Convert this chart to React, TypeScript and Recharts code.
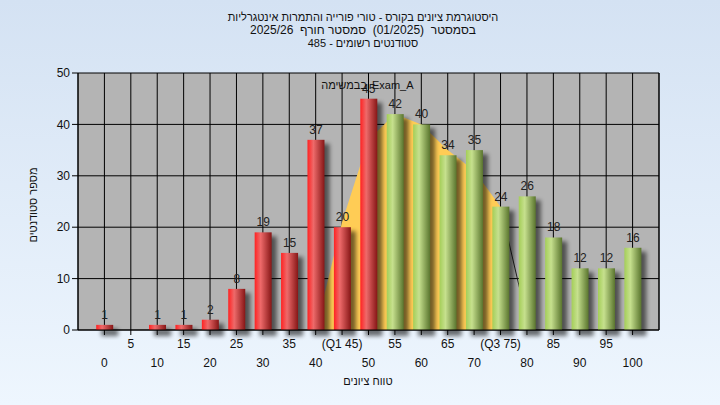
import {
  ComposedChart, Bar, Area, Line, XAxis, YAxis, CartesianGrid, LabelList
} from 'recharts'

const FONT = '"Liberation Sans", Arial, sans-serif'

// grade buckets and number of students in each
const grades = [0, 5, 10, 15, 20, 25, 30, 35, 40, 45, 50, 55, 60, 65, 70, 75, 80, 85, 90, 95, 100]
const students = [1, 0, 1, 1, 2, 8, 19, 15, 37, 20, 45, 42, 40, 34, 35, 24, 26, 18, 12, 12, 16]
const tickLabels = ['0', '5', '10', '15', '20', '25', '30', '35', '40', '(Q1 45)', '50', '55', '60', '65', '70', '(Q3 75)', '80', '85', '90', '95', '100']
// yellow band behind the bars (Q1..Q3) and its dark tail
const band = [null, null, null, null, null, null, null, null, 0, 21, 37, 42, 40, 35, 31, 24, null, null, null, null, null]
const tail = [null, null, null, null, null, null, null, null, null, null, null, null, null, null, null, 24, 2, null, null, null, null]
const yTicks = [0, 10, 20, 30, 40, 50]

const titleLines = [
  { text: 'היסטוגרמת ציונים בקורס - טורי פורייה והתמרות אינטגרליות', size: 11 },
  { text: 'בסמסטר  (01/2025)  סמסטר חורף  2025/26', size: 12 },
  { text: 'סטודנטים רשומים - 485', size: 11 },
]

const data = grades.map((g, i) => ({
  grade: g,
  count: students[i],
  band: band[i],
  tail: tail[i],
}))

function CylBar(props: any) {
  const { x, y, width, height, payload } = props
  if (!height || height <= 0) return null
  const fill = payload.grade <= 50 ? 'url(#redBar)' : 'url(#greenBar)'
  return (
    <g>
      <rect x={x + 5} y={y + 4} width={width} height={height + 2} fill="#000" opacity={0.55} filter="url(#barShadow)" />
      <rect x={x} y={y} width={width} height={height} fill={fill} />
    </g>
  )
}

function GradeTick(props: any) {
  const { x, y, payload } = props
  const i = grades.indexOf(payload.value)
  const upper = payload.value % 10 === 5
  return (
    <text x={x} y={y} dy={upper ? 11 : 29.5} textAnchor="middle" fontSize={12} fill="#111" fontFamily={FONT}>
      {tickLabels[i]}
    </text>
  )
}

export default function App() {
  return (
    <div style={{
      position: 'absolute', left: 0, top: 0, width: 720, height: 405,
      background: 'linear-gradient(#D4E2F3, #EEF6FE)', fontFamily: FONT, color: '#111',
    }}>
      <div style={{ position: 'absolute', left: 0, top: 11, width: 726, textAlign: 'center', direction: 'rtl', whiteSpace: 'pre' }}>
        {titleLines.map(t => <div key={t.text} style={{ fontSize: t.size, lineHeight: '13px' }}>{t.text}</div>)}
      </div>
      <div style={{ position: 'absolute', left: 0, top: 0 }}>
        <ComposedChart width={720} height={405} data={data} margin={{ top: 73, right: 0, bottom: 0, left: 0 }}>
          <defs>
            <linearGradient id="redBar" x1="0" y1="0" x2="1" y2="0">
              <stop offset="0%" stopColor="#FF2222" />
              <stop offset="35%" stopColor="#EE6A6A" />
              <stop offset="100%" stopColor="#861616" />
            </linearGradient>
            <linearGradient id="greenBar" x1="0" y1="0" x2="1" y2="0">
              <stop offset="0%" stopColor="#A4CE58" />
              <stop offset="35%" stopColor="#C6E08E" />
              <stop offset="100%" stopColor="#5A752E" />
            </linearGradient>
            <filter id="barShadow" x="-50%" y="-50%" width="200%" height="200%">
              <feGaussianBlur stdDeviation="2" />
            </filter>
          </defs>
          <CartesianGrid yAxisId="l" stroke="#000" fill="#B4B4B4" fillOpacity={1} />
          <XAxis
            dataKey="grade"
            type="number"
            domain={[-5, 105]}
            ticks={grades}
            interval={0}
            height={75}
            tickSize={5}
            tick={<GradeTick />}
            axisLine={{ stroke: '#000' }}
            tickLine={{ stroke: '#000' }}
          />
          <YAxis
            yAxisId="l"
            domain={[0, 50]}
            ticks={yTicks}
            width={78}
            tickSize={6}
            tick={{ fontSize: 12, fill: '#111', fontFamily: FONT }}
            axisLine={{ stroke: '#000' }}
            tickLine={{ stroke: '#000' }}
          />
          <YAxis
            yAxisId="r"
            orientation="right"
            domain={[0, 50]}
            ticks={yTicks}
            width={61}
            tickSize={6}
            tick={{ fontSize: 12, fill: '#111', fontFamily: FONT }}
            axisLine={{ stroke: '#000' }}
            tickLine={{ stroke: '#000' }}
          />
          <Area
            yAxisId="l"
            dataKey="band"
            type="linear"
            stroke="none"
            fill="#FFCC55"
            fillOpacity={1}
            dot={false}
            activeDot={false}
            isAnimationActive={false}
          />
          <Line
            yAxisId="l"
            dataKey="tail"
            type="linear"
            stroke="#222"
            strokeWidth={1}
            dot={false}
            activeDot={false}
            zIndex={250}
            isAnimationActive={false}
          />
          <Bar yAxisId="l" dataKey="count" barSize={17} shape={<CylBar />} isAnimationActive={false}>
            <LabelList
              dataKey="count"
              position="top"
              offset={6}
              fontSize={12}
              fill="#222"
              fontFamily={FONT}
              formatter={(v: any) => (v === 0 ? '' : v)}
            />
          </Bar>
        </ComposedChart>
      </div>
      <div style={{ position: 'absolute', left: 318, top: 78, width: 49, textAlign: 'right', direction: 'rtl', fontSize: 11, lineHeight: '14px' }}>
        בבמשימה
      </div>
      <div style={{ position: 'absolute', left: 372, top: 78, fontSize: 11, lineHeight: '14px' }}>
        Exam_A
      </div>
      <div style={{ position: 'absolute', left: 268, top: 374, width: 200, textAlign: 'center', direction: 'rtl', fontSize: 11, lineHeight: '14px' }}>
        טווח ציונים
      </div>
      <div style={{
        position: 'absolute', left: 33 - 60, top: 205 - 7, width: 120, textAlign: 'center', direction: 'rtl',
        fontSize: 11, lineHeight: '14px', transform: 'rotate(-90deg)',
      }}>
        מספר סטודנטים
      </div>
    </div>
  )
}
